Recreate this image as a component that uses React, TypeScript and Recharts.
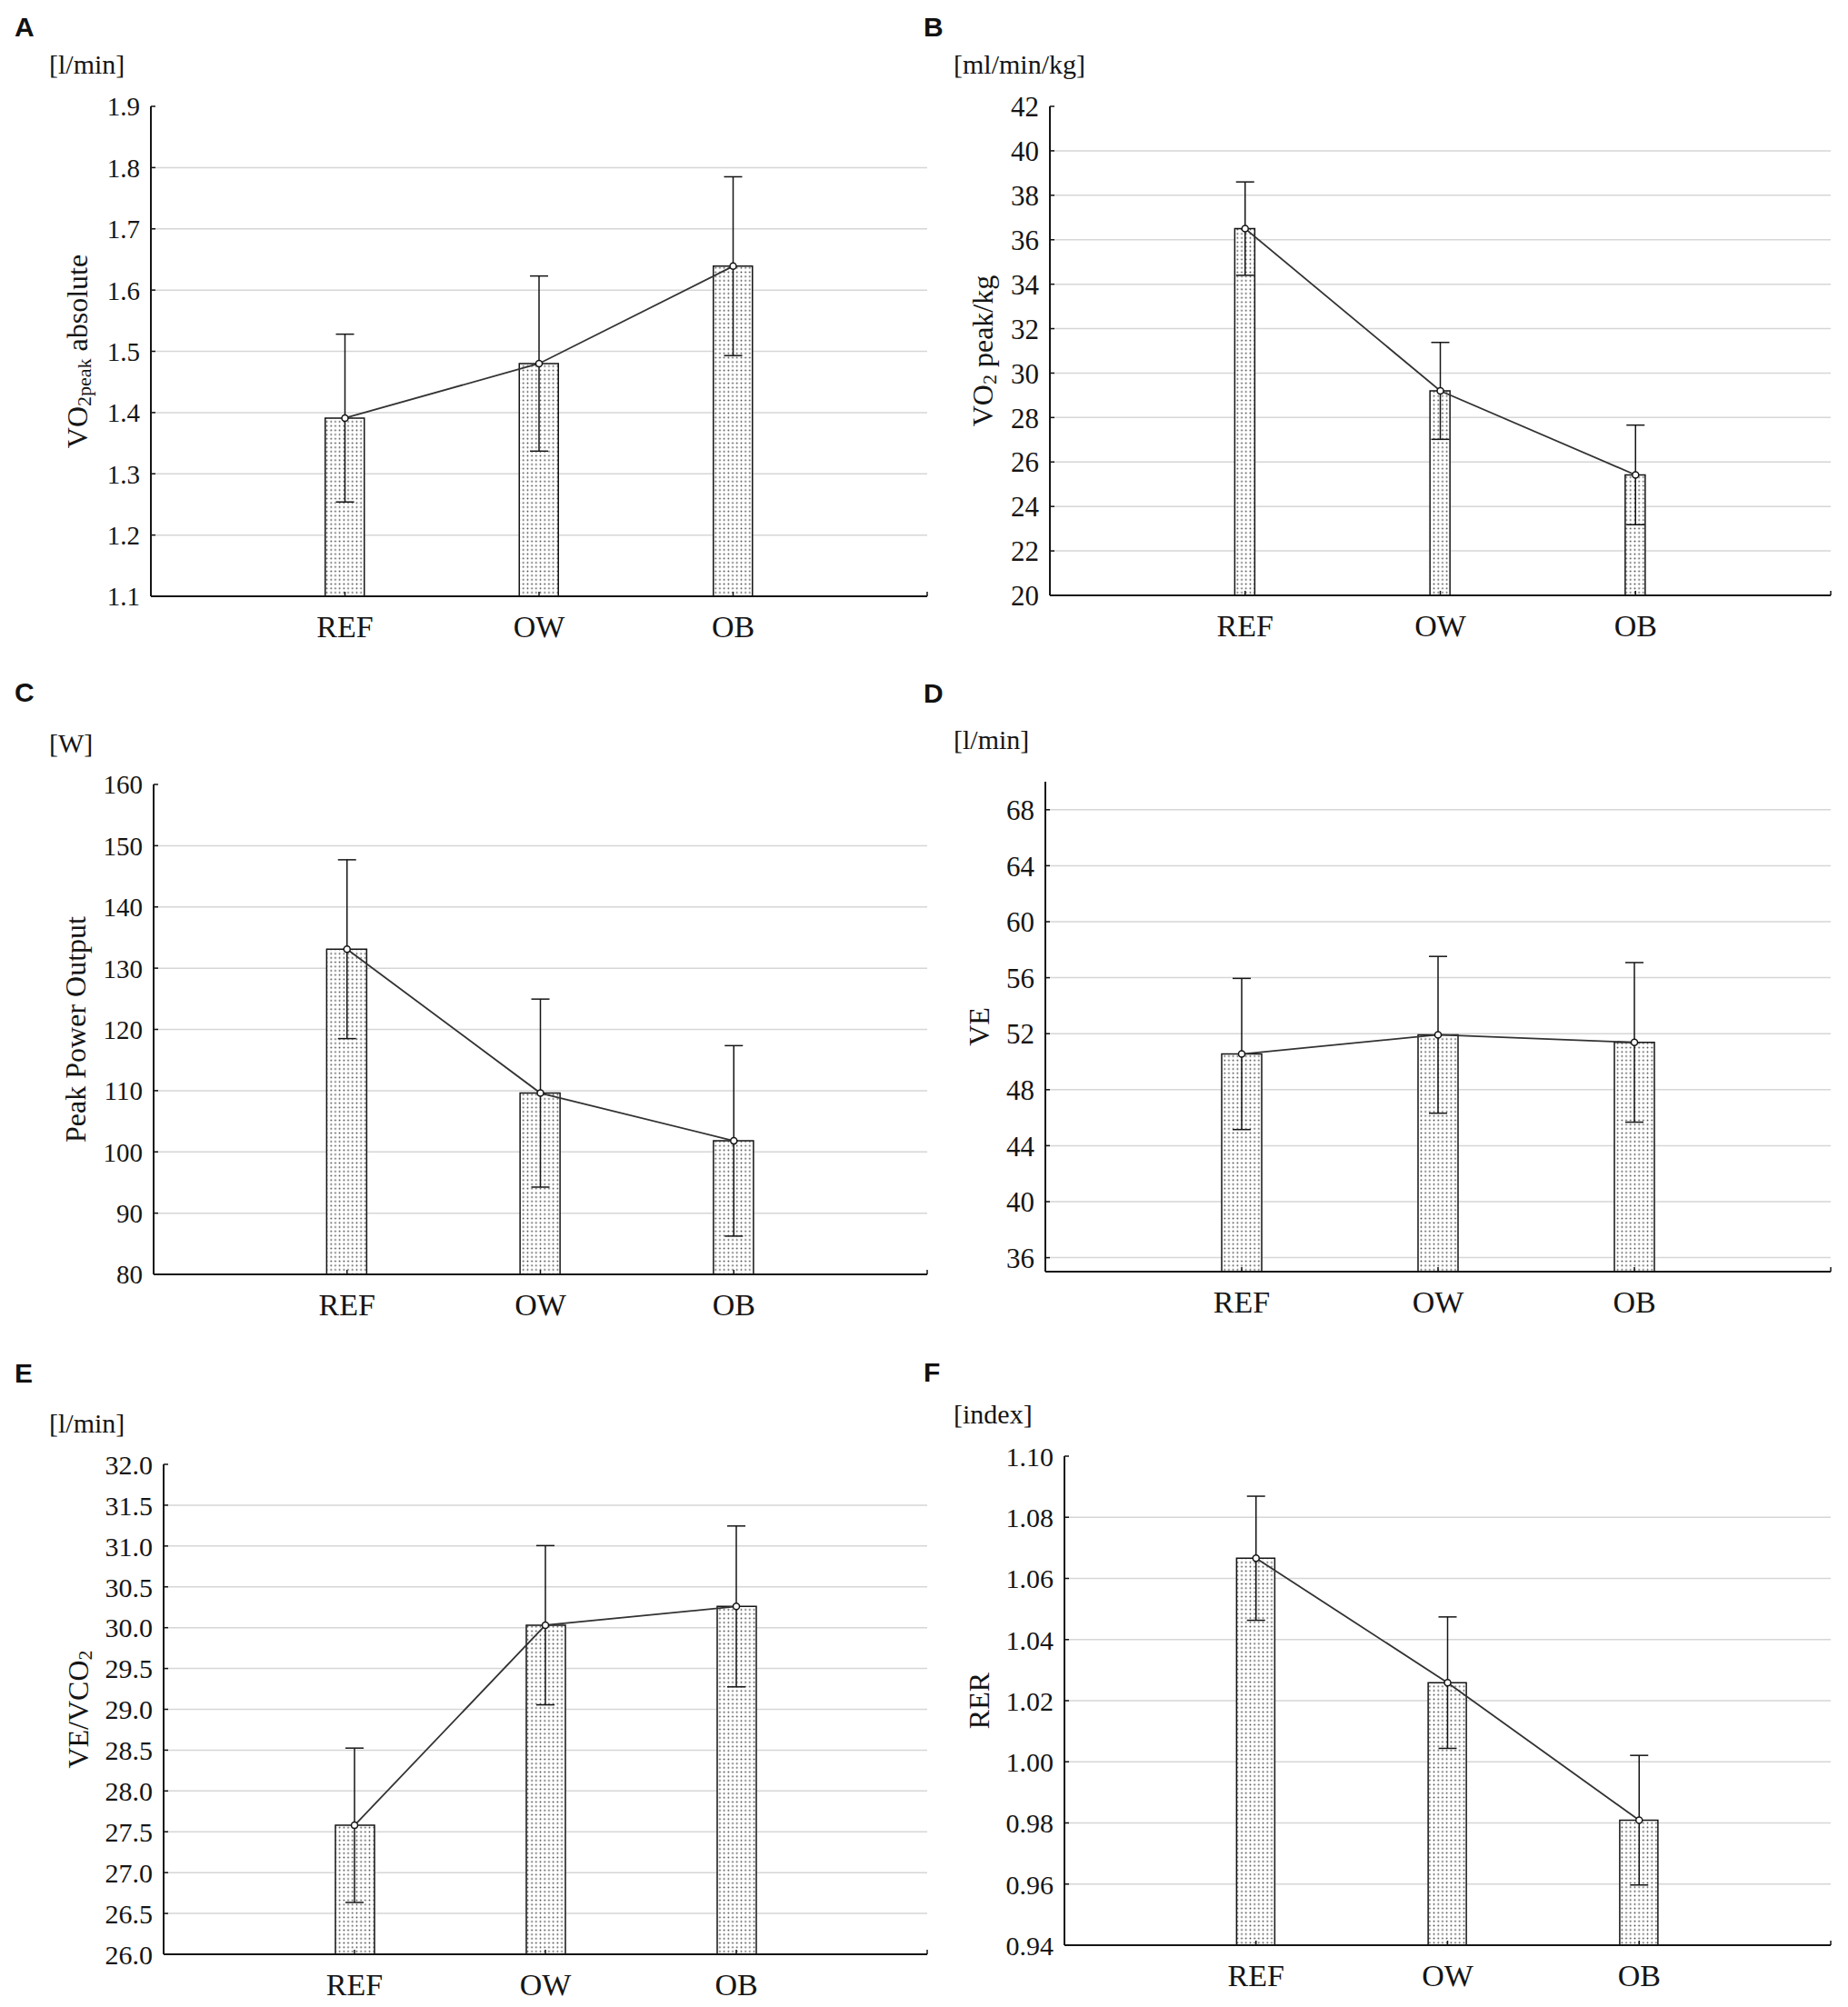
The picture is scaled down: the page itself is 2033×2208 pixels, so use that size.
import React from "react";
import {
  ComposedChart,
  Bar,
  Line,
  XAxis,
  YAxis,
  CartesianGrid,
  ErrorBar,
} from "recharts";

// groups on the x axis
const groups = ["REF", "OW", "OB"];

// A - VO2peak absolute [l/min]
const vo2AbsMean = [1.391, 1.48, 1.639];
const vo2AbsSd = [0.137, 0.143, 0.146];
const vo2AbsTicks = [1.1, 1.2, 1.3, 1.4, 1.5, 1.6, 1.7, 1.8, 1.9];

// B - VO2 peak/kg [ml/min/kg]
const vo2KgMean = [36.5, 29.2, 25.42];
const vo2KgSd = [2.1, 2.18, 2.24];
const vo2KgTicks = [20, 22, 24, 26, 28, 30, 32, 34, 36, 38, 40, 42];

// C - Peak Power Output [W]
const powerMean = [133.1, 109.6, 101.8];
const powerSd = [14.6, 15.35, 15.55];
const powerTicks = [80, 90, 100, 110, 120, 130, 140, 150, 160];

// D - VE [l/min]
const veMean = [50.55, 51.92, 51.38];
const veSd = [5.4, 5.6, 5.7];
const veTicks = [36, 40, 44, 48, 52, 56, 60, 64, 68];

// E - VE/VCO2
const veVco2Mean = [27.58, 30.03, 30.26];
const veVco2Sd = [0.945, 0.975, 0.985];
const veVco2Ticks = [26, 26.5, 27, 27.5, 28, 28.5, 29, 29.5, 30, 30.5, 31, 31.5, 32];

// F - RER [index]
const rerMean = [1.0666, 1.0259, 0.9809];
const rerSd = [0.0203, 0.0215, 0.0212];
const rerTicks = [0.94, 0.96, 0.98, 1.0, 1.02, 1.04, 1.06, 1.08, 1.1];

const SERIF = '"Liberation Serif", "Times New Roman", serif';
const SANS = '"Liberation Sans", Arial, sans-serif';
const INK = "#151515";
const Y_W = 60;
const X_H = 50;

type Part = { t: string; sub?: boolean };

const rowsOf = (mean: number[], sd: number[]) =>
  groups.map((name, i) => ({ pos: i + 1, name, mean: mean[i], sd: sd[i] }));

const panels = [
  {
    id: "A", unit: "[l/min]", mean: vo2AbsMean, sd: vo2AbsSd, ticks: vo2AbsTicks,
    domain: [1.1, 1.9], digits: 1, tickFont: 29, barSize: 43,
    title: [{ t: "VO" }, { t: "2peak", sub: true }, { t: " absolute" }] as Part[],
    titleX: 85, box: { x: 0, y: 95, w: 1030, h: 625 },
    plot: { l: 166, t: 117, r: 1020, b: 656 }, letterPos: [16, 40], unitPos: [54, 81],
  },
  {
    id: "B", unit: "[ml/min/kg]", mean: vo2KgMean, sd: vo2KgSd, ticks: vo2KgTicks,
    domain: [20, 42], digits: 0, tickFont: 31, barSize: 22,
    title: [{ t: "VO" }, { t: "2", sub: true }, { t: " peak/kg" }] as Part[],
    titleX: 1081, box: { x: 1030, y: 95, w: 1003, h: 625 },
    plot: { l: 1155, t: 117, r: 2014, b: 655 }, letterPos: [1016, 40], unitPos: [1049, 81],
  },
  {
    id: "C", unit: "[W]", mean: powerMean, sd: powerSd, ticks: powerTicks,
    domain: [80, 160], digits: 0, tickFont: 29, barSize: 44,
    title: [{ t: "Peak Power Output" }] as Part[],
    titleX: 83, box: { x: 0, y: 840, w: 1030, h: 625 },
    plot: { l: 169, t: 863, r: 1020, b: 1402 }, letterPos: [16, 772], unitPos: [54, 828],
  },
  {
    id: "D", unit: "[l/min]", mean: veMean, sd: veSd, ticks: veTicks,
    domain: [35, 70], digits: 0, tickFont: 31, barSize: 44,
    title: [{ t: "VE" }] as Part[],
    titleX: 1077, box: { x: 1030, y: 840, w: 1003, h: 625 },
    plot: { l: 1150, t: 860, r: 2014, b: 1399 }, letterPos: [1016, 773], unitPos: [1049, 824],
  },
  {
    id: "E", unit: "[l/min]", mean: veVco2Mean, sd: veVco2Sd, ticks: veVco2Ticks,
    domain: [26, 32], digits: 1, tickFont: 30, barSize: 43,
    title: [{ t: "VE/VCO" }, { t: "2", sub: true }] as Part[],
    titleX: 86, box: { x: 0, y: 1590, w: 1030, h: 618 },
    plot: { l: 180, t: 1611, r: 1020, b: 2150 }, letterPos: [16, 1521], unitPos: [54, 1576],
  },
  {
    id: "F", unit: "[index]", mean: rerMean, sd: rerSd, ticks: rerTicks,
    domain: [0.94, 1.1], digits: 2, tickFont: 30, barSize: 42,
    title: [{ t: "RER" }] as Part[],
    titleX: 1077, box: { x: 1030, y: 1585, w: 1003, h: 623 },
    plot: { l: 1171, t: 1602, r: 2014, b: 2140 }, letterPos: [1016, 1520], unitPos: [1049, 1566],
  },
];

function XTick(props: any) {
  const { x, y, payload } = props;
  const label = groups[payload.value - 1] ?? "";
  return (
    <g>
      <line x1={x} x2={x} y1={y} y2={y - 5} stroke={INK} strokeWidth={1.5} />
      {label && (
        <text x={x} y={y + 45} textAnchor="middle" fontFamily={SERIF} fontSize={34} fill={INK}>
          {label}
        </text>
      )}
    </g>
  );
}

const makeYTick = (fontSize: number, digits: number) =>
  function YTick(props: any) {
    const { x, y, payload } = props;
    return (
      <g>
        <line x1={x} x2={x + 5} y1={y} y2={y} stroke={INK} strokeWidth={1.5} />
        <text x={x - 12} y={y} dy="0.36em" textAnchor="end" fontFamily={SERIF} fontSize={fontSize} fill={INK}>
          {Number(payload.value).toFixed(digits)}
        </text>
      </g>
    );
  };

function Panel({ p }: { p: (typeof panels)[number] }) {
  const data = rowsOf(p.mean, p.sd);
  const margin = {
    top: p.plot.t - p.box.y,
    left: p.plot.l - p.box.x - Y_W,
    right: p.box.x + p.box.w - p.plot.r,
    bottom: p.box.y + p.box.h - p.plot.b - X_H,
  };
  const gridVals = p.ticks.filter((v) => v !== p.domain[1] && v !== p.domain[0]);
  const cx = p.titleX - p.box.x;
  const cy = (p.plot.t + p.plot.b) / 2 - p.box.y;
  const patId = `dots${p.id}`;

  const title = () => (
    <text
      x={cx}
      y={cy}
      transform={`rotate(-90 ${cx} ${cy})`}
      textAnchor="middle"
      dominantBaseline="central"
      fontFamily={SERIF}
      fontSize={32}
      fill={INK}
    >
      {p.title.map((part, i) =>
        part.sub ? (
          <tspan key={i} fontSize={22} dy={7}>
            {part.t}
          </tspan>
        ) : (
          <tspan key={i} dy={i > 0 && p.title[i - 1].sub ? -7 : 0}>
            {part.t}
          </tspan>
        )
      )}
    </text>
  );

  return (
    <div style={{ position: "absolute", left: p.box.x, top: p.box.y }}>
      <ComposedChart width={p.box.w} height={p.box.h} data={data} margin={margin}>
        <defs>
          <pattern id={patId} width={4.7} height={4.7} patternUnits="userSpaceOnUse">
            <rect width={4.7} height={4.7} fill="#fff" />
            <circle cx={2.35} cy={2.35} r={0.9} fill="#444" />
          </pattern>
        </defs>
        <CartesianGrid vertical={false} horizontalValues={gridVals} stroke="#d6d6d6" strokeWidth={1.5} />
        <XAxis
          dataKey="pos"
          type="number"
          domain={[0, 4]}
          ticks={[1, 2, 3, 4]}
          interval={0}
          height={X_H}
          tickSize={0}
          tickMargin={0}
          tickLine={false}
          axisLine={{ stroke: INK, strokeWidth: 2 }}
          tick={XTick}
        />
        <YAxis
          type="number"
          domain={p.domain}
          ticks={p.ticks}
          interval={0}
          allowDataOverflow
          width={Y_W}
          tickSize={0}
          tickMargin={0}
          tickLine={false}
          axisLine={{ stroke: INK, strokeWidth: 2 }}
          tick={makeYTick(p.tickFont, p.digits)}
          label={{ content: title }}
        />
        <Bar
          dataKey="mean"
          barSize={p.barSize}
          fill={`url(#${patId})`}
          stroke={INK}
          strokeWidth={1.5}
          isAnimationActive={false}
        />
        <Line
          dataKey="mean"
          type="linear"
          stroke="#333"
          strokeWidth={1.8}
          dot={{ r: 3.5, stroke: INK, strokeWidth: 1.5, fill: "#fff" }}
          activeDot={false}
          isAnimationActive={false}
        >
          <ErrorBar dataKey="sd" direction="y" width={10} stroke={INK} strokeWidth={1.5} isAnimationActive={false} />
        </Line>
      </ComposedChart>
    </div>
  );
}

export default function App() {
  return (
    <div
      style={{
        position: "absolute",
        left: 0,
        top: 0,
        width: 2033,
        height: 2208,
        background: "#fff",
        overflow: "hidden",
      }}
    >
      {panels.map((p) => (
        <Panel key={p.id} p={p} />
      ))}
      <svg
        width={2033}
        height={2208}
        style={{ position: "absolute", left: 0, top: 0, pointerEvents: "none" }}
      >
        {panels.map((p) => (
          <g key={p.id}>
            <text x={p.letterPos[0]} y={p.letterPos[1]} fontFamily={SANS} fontWeight="bold" fontSize={30} fill="#111">
              {p.id}
            </text>
            <text x={p.unitPos[0]} y={p.unitPos[1]} fontFamily={SERIF} fontSize={30} fill={INK}>
              {p.unit}
            </text>
          </g>
        ))}
      </svg>
    </div>
  );
}
